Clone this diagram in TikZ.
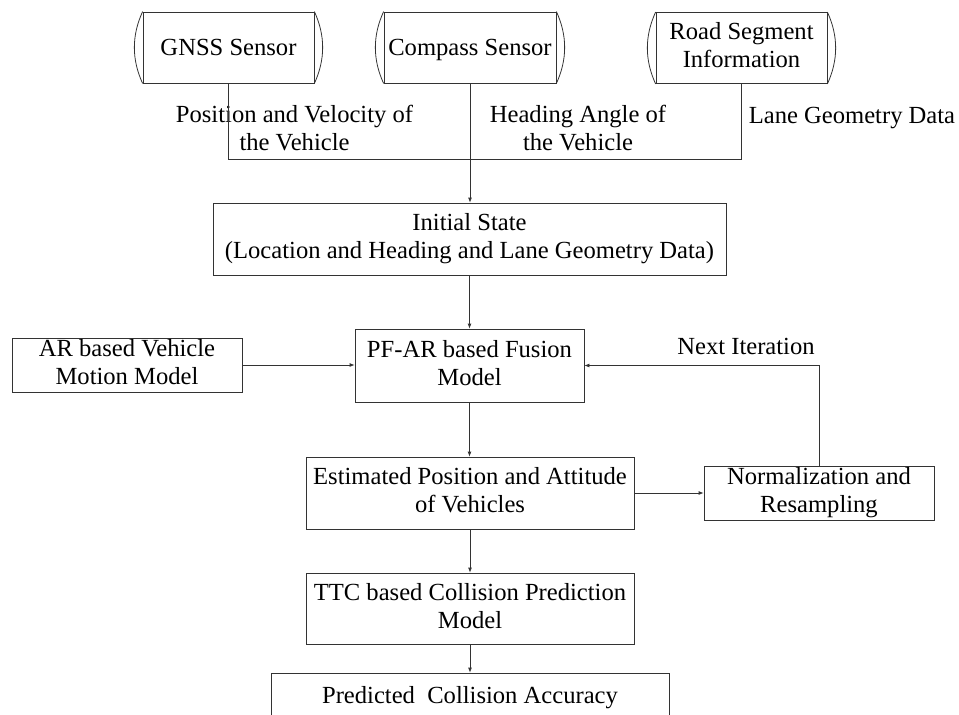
\documentclass[tikz,border=0pt]{standalone}
\usepackage{fontspec}
\setmainfont{Liberation Serif}
\usetikzlibrary{arrows.meta}
\newcommand{\mystrut}{\rule[-5.5pt]{0pt}{27pt}}
\begin{document}
\begin{tikzpicture}[x=1pt,y=-1pt,
  every node/.style={font=\fontsize{24.6}{28}\selectfont, align=center, inner sep=0pt,
    execute at begin node=\mystrut, execute at end node=\mystrut},
  box/.style={draw=black!80, line width=0.8pt, rectangle},
  sensor/.style={draw=black!80, line width=0.8pt, rectangle, minimum height=71pt},
  conn/.style={draw=black!80, line width=0.8pt},
  arr/.style={conn, -{Latex[length=5pt,width=4pt]}},
  lbl/.style={}
]
\useasboundingbox (0,0) rectangle (959,715);
\begin{scope}
\clip (0,0) rectangle (959,715);

% sensors
\node[sensor, minimum width=171pt] (gnss) at (228.5,47.5) {GNSS Sensor};
\node[sensor, minimum width=172pt] (comp) at (470,47.5) {Compass Sensor};
\node[sensor, minimum width=171pt] (road) at (741.5,48) {Road Segment\\Information};
\foreach \n in {gnss,comp,road}{
  \draw[conn] (\n.north west) .. controls +(-11,24) and +(-11,-24) .. (\n.south west);
  \draw[conn] (\n.north east) .. controls +(11,24) and +(11,-24) .. (\n.south east);
}

% labels of sensor outputs
\node[lbl] (lpos) at (294.5,131) {Position and Velocity of\\the Vehicle};
\node[lbl] (lhead) at (578,131) {Heading Angle of\\the Vehicle};
\node[lbl] (llane) at (852,115) {Lane Geometry Data};

% main boxes
\node[box, minimum width=513pt, minimum height=72pt] (init) at (469.5,239) {Initial State\\(Location and Heading and Lane Geometry Data)};
\node[box, minimum width=229pt, minimum height=73pt] (pf) at (469.5,365.5) {PF-AR based Fusion\\Model};
\node[box, minimum width=230pt, minimum height=54pt] (ar) at (127,365) {AR based Vehicle\\Motion Model};
\node[box, minimum width=328pt, minimum height=72pt] (est) at (470,493) {Estimated Position and Attitude\\of Vehicles};
\node[box, minimum width=230pt, minimum height=54pt] (norm) at (819,493) {Normalization and\\Resampling};
\node[box, minimum width=328pt, minimum height=71pt] (ttc) at (470,608.5) {TTC based Collision Prediction\\Model};
\node[box, minimum width=398pt, minimum height=44pt] (pred) at (470,695) {Predicted~~Collision Accuracy};

\node[lbl] (next) at (746,346) {Next Iteration};

% connectors
\coordinate (join) at (470,159);
\draw[conn] (gnss.south) |- (join);
\draw[conn] (road.south) |- (join);
\draw[arr] (comp.south) -- (init.north -| comp.south);
\draw[arr] (init.south) -- (init.south |- pf.north);
\draw[arr] (ar.east) -- (ar.east -| pf.west);
\draw[arr] (pf.south) -- (pf.south |- est.north);
\draw[arr] (est.east) -- (norm.west);
\draw[arr] (norm.north) |- (pf.east);
\draw[arr] (est.south) -- (ttc.north);
\draw[arr] (ttc.south) -- (pred.north);
\end{scope}
\end{tikzpicture}
\end{document}
